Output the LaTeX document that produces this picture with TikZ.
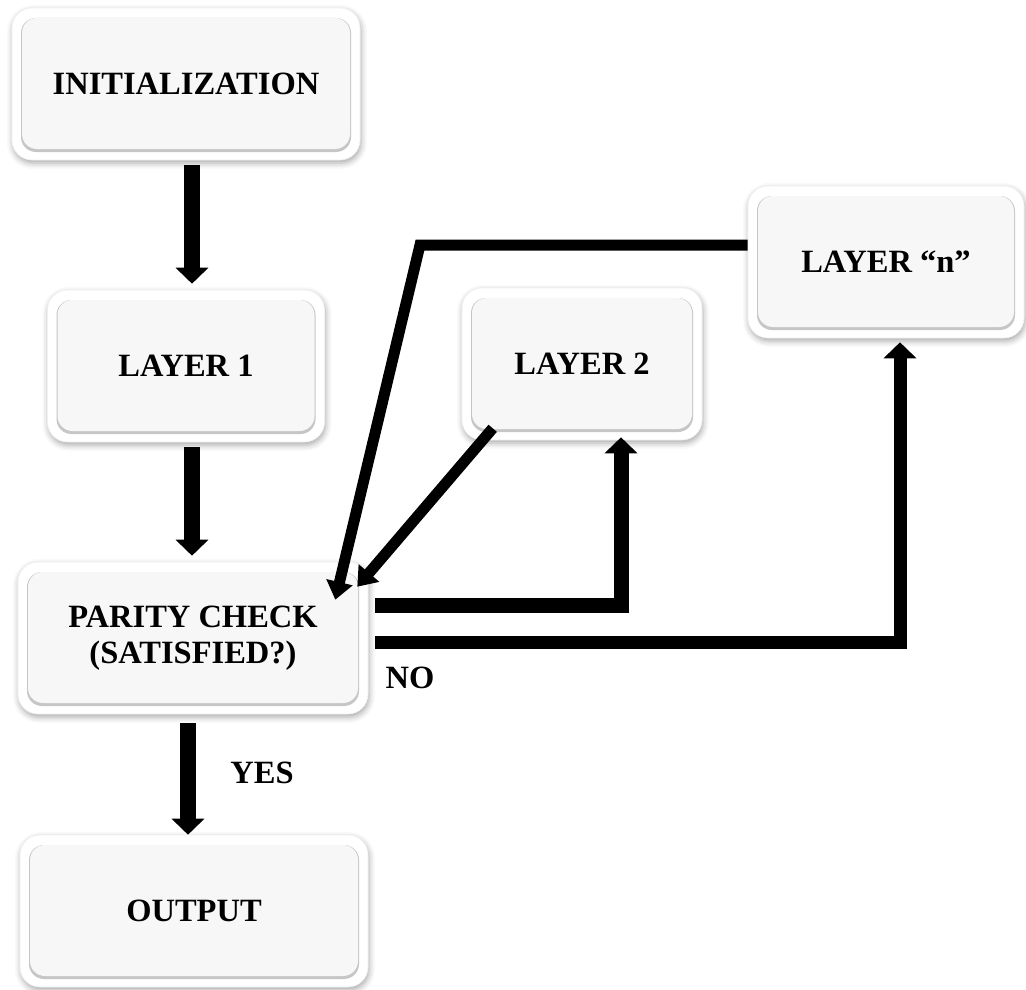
\documentclass[tikz,border=0pt]{standalone}
\usepackage{fontspec}
\setmainfont{Liberation Serif}
\usetikzlibrary{arrows.meta,shadows.blur}

\tikzset{
  stagebox/.style={rectangle, rounded corners=20pt, fill=white, draw=gray!12,
    line width=0.6pt, minimum width=#1, minimum height=152pt, inner sep=0pt,
    align=center, font=\fontsize{32.5}{36}\selectfont\bfseries,
    blur shadow={shadow xshift=1pt, shadow yshift=-3pt,
      shadow blur radius=6pt, shadow opacity=35},
    path picture={
      \fill[gray!45, rounded corners=15pt]
        ([shift={(9pt,8pt)}]path picture bounding box.south west) rectangle
        ([shift={(-9pt,-10pt)}]path picture bounding box.north east);
      \fill[gray!6, rounded corners=15pt]
        ([shift={(10pt,11pt)}]path picture bounding box.south west) rectangle
        ([shift={(-10pt,-10pt)}]path picture bounding box.north east);
    }},
  fatarrow/.style={line width=16pt, -{Triangle[width=32pt,length=16pt]}},
  thinarrow/.style={line width=11pt, -{Triangle[width=26pt,length=18pt]}},
  tag/.style={font=\fontsize{32.5}{36}\selectfont\bfseries}
}

\begin{document}
\begin{tikzpicture}[x=1pt,y=-1pt]
\useasboundingbox (0,0) rectangle (1026,990);

% stages
\node[stagebox=348pt] (init) at (186,84) {INITIALIZATION};
\node[stagebox=277pt] (layer1) at (186,366) {LAYER 1};
\node[stagebox=350pt] (parity) at (193,638) {PARITY CHECK\\(SATISFIED?)};
\node[stagebox=348pt] (output) at (194,911) {OUTPUT};
\node[stagebox=240pt] (layer2) at (582,364) {LAYER 2};
\node[stagebox=276pt] (layern) at (886,262) {LAYER “n”};

% left column
\foreach \a/\b in {init/layer1, layer1/parity}
{
    \draw[fatarrow, shorten <=5pt, shorten >=6pt] ([xshift=6pt]\a.south) -- ([xshift=6pt]\a.south |- \b.north);
}

\draw[fatarrow, shorten <=9pt] ([xshift=-5pt]parity.south) -- ([xshift=-5pt]parity.south |- output.north);
\node[tag] (yes) at (262,773) {YES};

% back to the parity check
\coordinate (bend) at (420,245);
\draw[thinarrow] ([yshift=17pt]layern.west) -- (bend) -- ([xshift=-33pt,yshift=-38pt]parity.north east);
\draw[thinarrow] ([xshift=31pt,yshift=12pt]layer2.south west) -- ([xshift=-11pt,yshift=-25pt]parity.north east);

% on to the next layer
\draw[fatarrow, line width=15pt, shorten <=7pt, shorten >=-3pt] ([yshift=33pt]parity.east) -| ([xshift=39pt]layer2.south);
\draw[fatarrow, line width=13pt, shorten <=7pt, shorten >=4pt] ([yshift=-4pt]parity.east) -| ([xshift=14pt]layern.south);
\node[tag] (no) at (410,678) {NO};

\end{tikzpicture}
\end{document}
